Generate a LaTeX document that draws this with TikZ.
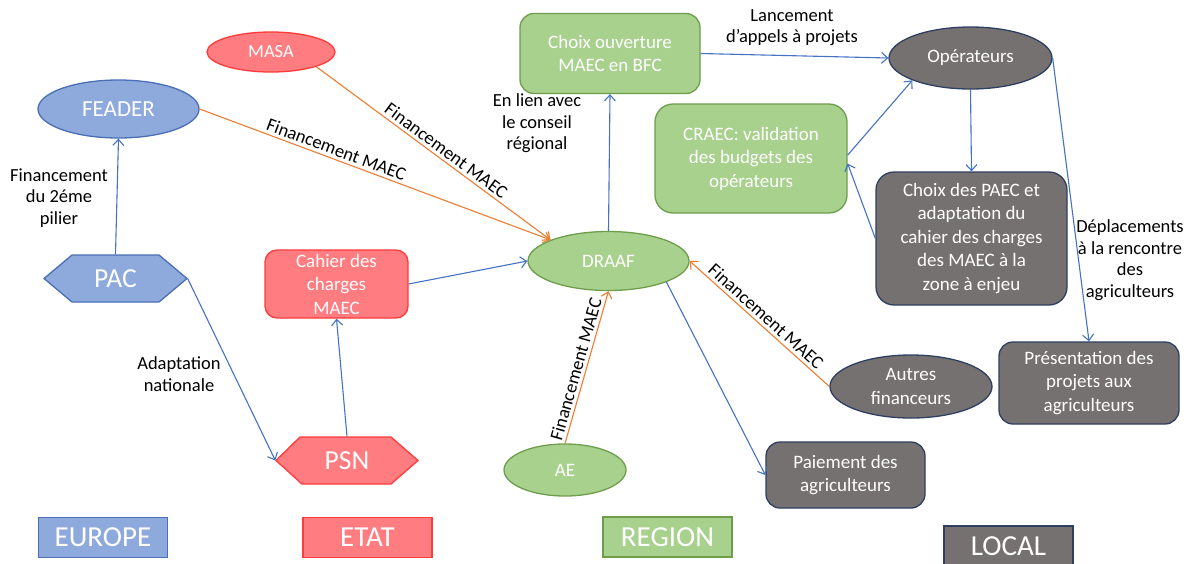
\documentclass[tikz,border=0pt]{standalone}
\usepackage{fontspec}
\setmainfont{Carlito}
\usetikzlibrary{arrows.meta,shapes.geometric}
\definecolor{bluefill}{HTML}{8EA9DB}
\definecolor{blueline}{HTML}{4472C4}
\definecolor{bluedraw}{HTML}{4A6FB5}
\definecolor{redfill}{HTML}{FF7C80}
\definecolor{reddraw}{HTML}{FF3B3B}
\definecolor{greenfill}{HTML}{A9D18E}
\definecolor{greendraw}{HTML}{6E9E4C}
\definecolor{greyfill}{HTML}{767171}
\definecolor{greydraw}{HTML}{2F3F60}
\definecolor{orangeline}{HTML}{ED7D31}
\begin{document}
\begin{tikzpicture}[x=1pt,y=-1pt,
  nbase/.style={inner sep=0pt, text=white, align=center, line width=1.3pt},
  nodefont/.style={font=\fontsize{19}{23.5}\selectfont},
  txtlab/.style={font=\fontsize{18.5}{21.5}\selectfont, align=center, text=black, inner sep=0pt},
  eu/.style={nbase, fill=bluefill, draw=bluedraw},
  et/.style={nbase, fill=redfill, draw=reddraw},
  rg/.style={nbase, fill=greenfill, draw=greendraw},
  lc/.style={nbase, fill=greyfill, draw=greydraw},
  oval/.style={ellipse},
  rbox/.style={rectangle, rounded corners=14pt},
  tierbox/.style={rectangle, font=\fontsize{29}{32}\selectfont, minimum width=129pt, minimum height=40pt},
  hexfill/.style={line width=1.3pt},
  bluearrow/.style={draw=blueline, line width=1.1pt, -{Straight Barb[length=6pt,width=11pt]}},
  orangearrow/.style={draw=orangeline, line width=1.1pt, -{Straight Barb[length=6pt,width=11pt]}},
  elab/.style={font=\fontsize{18.5}{21.5}\selectfont, text=black, sloped, above, inner sep=3pt}
]
\useasboundingbox (0,0) rectangle (1193,563);
\fill[white] (0,0) rectangle (1193,563);
\clip (0,0) rectangle (1193,563);

% hexagon outlines
\filldraw[hexfill, fill=bluefill, draw=bluedraw] (44,278.5) -- (72,255) -- (159,255) -- (187,278.5) -- (159,302) -- (72,302) -- cycle;
\filldraw[hexfill, fill=redfill, draw=reddraw] (276,460.5) -- (300,437) -- (391,437) -- (418,460.5) -- (391,484) -- (302,484) -- cycle;

% nodes
\node[nbase, rectangle, minimum width=143pt, minimum height=47pt, font=\fontsize{27.5}{30}\selectfont] (pac) at (115.5,278.5) {PAC};
\node[nbase, rectangle, minimum width=142pt, minimum height=47pt, font=\fontsize{27.5}{30}\selectfont] (psn) at (347,460.5) {PSN};
\node[eu, oval, minimum width=161pt, minimum height=58pt, font=\fontsize{23}{26}\selectfont] (feader) at (118.5,109) {FEADER};
\node[et, oval, minimum width=128pt, minimum height=40pt, font=\fontsize{18.5}{22}\selectfont] (masa) at (271,52) {MASA};
\node[et, rbox, rounded corners=12pt, minimum width=143pt, minimum height=68pt, nodefont] (cahier) at (336.5,284) {Cahier des\\charges\\MAEC};
\node[rg, rbox, minimum width=180pt, minimum height=80pt, nodefont] (choix) at (610,53.5) {Choix ouverture\\MAEC en BFC};
\node[rg, rbox, rounded corners=18pt, minimum width=192pt, minimum height=109pt, nodefont] (craec) at (751,158.5) {CRAEC: validation\\des budgets des\\opérateurs};
\node[rg, oval, minimum width=161pt, minimum height=59pt, nodefont] (draaf) at (608.5,261) {DRAAF};
\node[rg, oval, minimum width=122pt, minimum height=52pt, nodefont] (ae) at (565,470) {AE};
\node[lc, oval, minimum width=163pt, minimum height=62pt, nodefont] (oper) at (970.5,58) {Opérateurs};
\node[lc, rbox, rounded corners=18pt, minimum width=191pt, minimum height=133pt, nodefont] (paec) at (971.5,238.5) {Choix des PAEC et\\adaptation du\\cahier des charges\\des MAEC à la\\zone à enjeu};
\node[lc, oval, minimum width=162pt, minimum height=63pt, nodefont] (autres) at (911,386.5) {Autres\\financeurs};
\node[lc, rbox, minimum width=180pt, minimum height=82pt, nodefont] (pres) at (1089,383) {Présentation des\\projets aux\\agriculteurs};
\node[lc, rbox, minimum width=159pt, minimum height=66pt, nodefont] (paie) at (845.5,475) {Paiement des\\agriculteurs};

% tier boxes
\node[eu, tierbox] (europe) at (103,537.5) {EUROPE};
\node[et, tierbox] (etat) at (367.5,537.5) {ETAT};
\node[rg, tierbox] (region) at (667.5,537) {REGION};
\node[lc, tierbox] (local) at (1008.5,546) {LOCAL};

% connectors
\draw[bluearrow] (pac.north) -- (feader.south);
\draw[bluearrow] (pac.east) -- (psn.west);
\draw[bluearrow] (psn.north) -- (cahier.south);
\draw[bluearrow] (cahier.east) -- (draaf.west);
\draw[orangearrow] (feader.east) -- (draaf.160) node[elab, pos=0.38] {Financement MAEC};
\draw[orangearrow] (masa.-18) -- (draaf.160) node[elab, pos=0.53] {Financement MAEC};
\draw[orangearrow] (ae.north) -- (draaf.south) node[elab, pos=0.47] {Financement MAEC};
\draw[orangearrow] (autres.west) -- (draaf.east) node[elab, pos=0.5] {Financement MAEC};
\draw[bluearrow] (draaf.north) -- (choix.south);
\draw[bluearrow] (draaf.-20) -- (paie.west);
\draw[bluearrow] (choix.east) -- (oper.west);
\draw[bluearrow] (craec.2) -- (oper.201);
\draw[bluearrow] (paec.west) -- (craec.-3);
\draw[bluearrow] (oper.south) -- (paec.north);
\draw[bluearrow] (oper.east) -- (pres.north);

% free labels
\node[txtlab] (l1) at (59,198) {Financement\\du 2éme\\pilier};
\node[txtlab] (l2) at (179,374) {Adaptation\\nationale};
\node[txtlab] (l3) at (537,123.5) {En lien avec\\le conseil\\régional};
\node[txtlab] (l4) at (792,27.5) {Lancement\\d’appels à projets};
\node[txtlab] (l5) at (1130,260) {Déplacements\\à la rencontre\\des\\agriculteurs};
\end{tikzpicture}
\end{document}
